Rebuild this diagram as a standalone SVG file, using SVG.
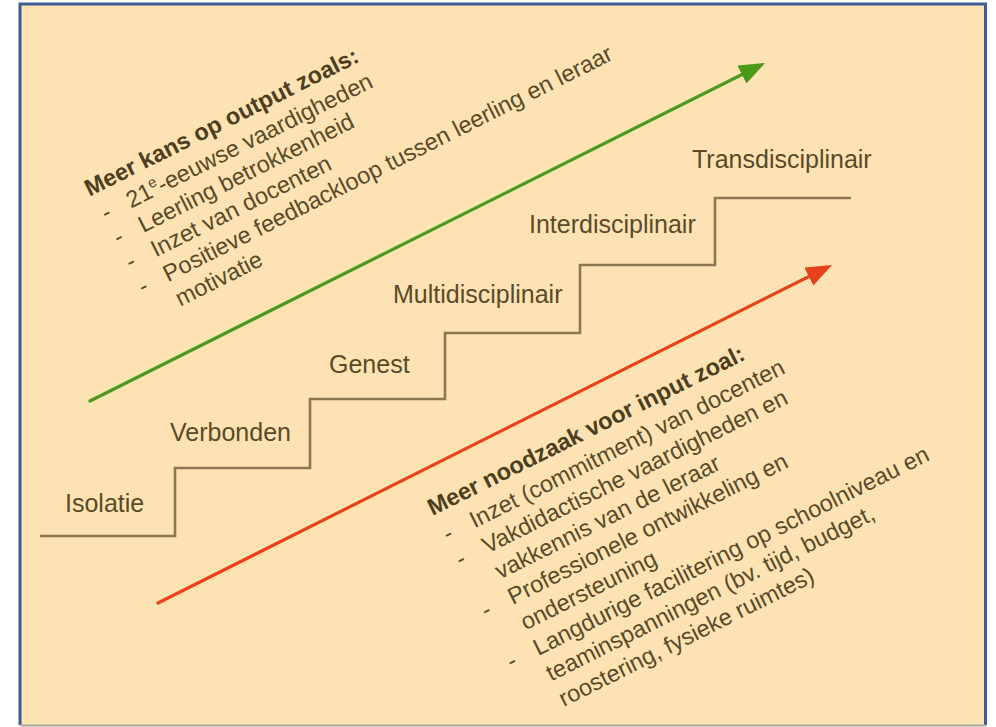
<svg xmlns="http://www.w3.org/2000/svg" width="996" height="727" viewBox="0 0 996 727">
  <defs>
    <style>
      .step-label { font-family: "Liberation Sans", Arial, sans-serif; font-size: 25px; fill: #5a4a28; }
      .note { font-family: "Liberation Sans", Arial, sans-serif; font-size: 23.5px; fill: #5a4a28; }
      .note-head { font-weight: bold; fill: #4e3e20; }
      .stairs { fill: none; stroke: #8b7750; stroke-width: 2.6; stroke-linejoin: miter; }
      .trend { fill: none; stroke-width: 3.2; stroke-linecap: round; }
    </style>
    <marker id="head-green" viewBox="0 0 26 20" refX="8" refY="10" markerWidth="26" markerHeight="20" markerUnits="userSpaceOnUse" orient="auto">
      <path d="M0,0 L26,10 L0,20 z" fill="#4b9a1c"/>
    </marker>
    <marker id="head-red" viewBox="0 0 26 20" refX="8" refY="10" markerWidth="26" markerHeight="20" markerUnits="userSpaceOnUse" orient="auto">
      <path d="M0,0 L26,10 L0,20 z" fill="#e8421c"/>
    </marker>
  </defs>

  <!-- page -->
  <rect x="0" y="0" width="996" height="727" fill="#ffffff"/>
  <rect x="20" y="4" width="965" height="721" fill="#fde3b3"/>
  <path d="M20,725 V4 H985.5 V725" fill="none" stroke="#3d5c9a" stroke-width="3"/>
  <line x1="20" y1="725.5" x2="986" y2="725.5" stroke="#a9a9a9" stroke-width="2"/>

  <!-- staircase -->
  <g id="staircase">
    <path class="stairs" d="M40,536 H175 V468 H310 V399 H445 V333 H580 V265 H715 V198 H851"/>
  </g>

  <g id="step-isolatie"><text class="step-label" x="65" y="512">Isolatie</text></g>
  <g id="step-verbonden"><text class="step-label" x="170" y="441">Verbonden</text></g>
  <g id="step-genest"><text class="step-label" x="329" y="373">Genest</text></g>
  <g id="step-multidisciplinair"><text class="step-label" x="393" y="303">Multidisciplinair</text></g>
  <g id="step-interdisciplinair"><text class="step-label" x="529" y="233">Interdisciplinair</text></g>
  <g id="step-transdisciplinair"><text class="step-label" x="692" y="168">Transdisciplinair</text></g>

  <!-- trend arrows -->
  <g id="connectors">
    <line class="trend" x1="90" y1="401" x2="749" y2="71" stroke="#4b9a1c" marker-end="url(#head-green)"/>
    <line class="trend" x1="158" y1="603" x2="816" y2="273" stroke="#e8421c" marker-end="url(#head-red)"/>
  </g>

  <!-- output notes (text slanted along the arrows) -->
  <g id="output-notes" class="note" transform="rotate(-26.565)">
    <text class="note-head" x="-8" y="216">Meer kans op output zoals:</text>
    <text x="-4" y="245">-</text>
    <text x="24" y="245">21<tspan font-size="15" dy="-9">e</tspan><tspan dy="9">-eeuwse vaardigheden</tspan></text>
    <text x="-4" y="272.5">-</text>
    <text x="24" y="272.5">Leerling betrokkenheid</text>
    <text x="-4" y="300">-</text>
    <text x="24" y="300">Inzet van docenten</text>
    <text x="-4" y="327.5">-</text>
    <text x="24" y="327.5">Positieve feedbackloop tussen leerling en leraar</text>
    <text x="24" y="355">motivatie</text>
  </g>

  <!-- input notes -->
  <g id="input-notes" class="note" transform="rotate(-26.565)">
    <text class="note-head" x="156" y="655">Meer noodzaak voor input zoal:</text>
    <text x="158" y="685">-</text>
    <text x="188" y="685">Inzet (commitment) van docenten</text>
    <text x="158" y="713.5">-</text>
    <text x="188" y="713.5">Vakdidactische vaardigheden en</text>
    <text x="188" y="742">vakkennis van de leraar</text>
    <text x="158" y="770.5">-</text>
    <text x="188" y="770.5">Professionele ontwikkeling en</text>
    <text x="188" y="799">ondersteuning</text>
    <text x="158" y="827.5">-</text>
    <text x="188" y="827.5">Langdurige facilitering op schoolniveau en</text>
    <text x="188" y="856">teaminspanningen (bv. tijd, budget,</text>
    <text x="188" y="884.5">roostering, fysieke ruimtes)</text>
  </g>
</svg>
